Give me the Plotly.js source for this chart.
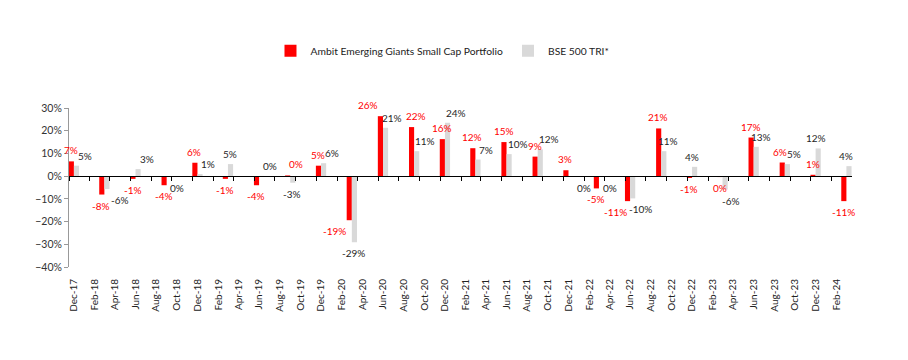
<!DOCTYPE html>
<html>
<head>
<meta charset="utf-8">
<script src="https://cdn.plot.ly/plotly-3.0.1.min.js"></script>
<style>html,body{margin:0;padding:0;background:#fff;}#chart{width:908px;height:360px;}</style>
</head>
<body>
<div id="chart"></div>
<script>
// Quarter-end months of the data points
var quarters = ['2017-12','2018-03','2018-06','2018-09','2018-12','2019-03','2019-06','2019-09',
  '2019-12','2020-03','2020-06','2020-09','2020-12','2021-03','2021-06','2021-09','2021-12',
  '2022-03','2022-06','2022-09','2022-12','2023-03','2023-06','2023-09','2023-12','2024-03'];

// Quarterly returns (%)
var ambit = [6.5,-8.1,-1.2,-4.0,5.9,-1.2,-4.0,0.3,4.6,-19.4,26.4,21.6,16.3,12.3,15.0,8.6,2.6,
  -5.4,-11.0,21.0,-0.8,-0.4,17.0,6.0,0.6,-11.0];
var bse = [4.6,-5.7,3.1,-0.2,0.9,5.3,0.1,-2.9,5.7,-29.1,21.3,11.0,23.5,7.3,9.7,11.8,-0.2,
  -0.2,-9.8,11.0,4.1,-5.9,12.9,5.3,12.2,4.4];

// Axis tick labels (every two months)
var tickLabels = ['Dec-17','Feb-18','Apr-18','Jun-18','Aug-18','Oct-18','Dec-18','Feb-19','Apr-19',
  'Jun-19','Aug-19','Oct-19','Dec-19','Feb-20','Apr-20','Jun-20','Aug-20','Oct-20','Dec-20',
  'Feb-21','Apr-21','Jun-21','Aug-21','Oct-21','Dec-21','Feb-22','Apr-22','Jun-22','Aug-22',
  'Oct-22','Dec-22','Feb-23','Apr-23','Jun-23','Aug-23','Oct-23','Dec-23','Feb-24'];

var seriesNames = ['Ambit Emerging Giants Small Cap Portfolio', 'BSE 500 TRI*'];

// Label placement tweaks (pixels, horizontal), kept apart from the data
var RED_SHIFT = -3, GREY_SHIFT = 11;
var redLabelShift = {'2019-09': 9, '2020-03': -14, '2020-06': -12, '2020-09': 5, '2022-06': -12, '2023-09': -2};
var greyLabelShift = {'2018-03': 16, '2018-09': 10, '2019-03': 2, '2019-09': 2, '2020-03': 2, '2020-06': 9, '2021-12': 16,
  '2022-06': 10, '2022-09': 7, '2022-12': 0, '2023-03': 8, '2023-06': 7, '2023-09': 9,
  '2023-12': 0, '2024-03': 0};

var MONTHS = {Jan:'01',Feb:'02',Mar:'03',Apr:'04',May:'05',Jun:'06',Jul:'07',Aug:'08',Sep:'09',Oct:'10',Nov:'11',Dec:'12'};
function labelToMonth(l){ var p = l.split('-'); return '20' + p[1] + '-' + MONTHS[p[0]]; }
function mid(m){ return m + '-15 12:00'; }
function start(m){ return m + '-01'; }

var DAY = 86400000;
var HALF = 15.2 * DAY;
var xMid = quarters.map(mid);

var RED = '#FF0000', GREY = '#D9D9D9';

var traces = [
  {type:'bar', name: seriesNames[0], x: xMid, y: ambit, xaxis:'x', yaxis:'y',
   width: HALF, offset: -HALF, marker:{color: RED}, hoverinfo:'skip'},
  {type:'bar', name: seriesNames[1], x: xMid, y: bse, xaxis:'x2', yaxis:'y',
   width: HALF, offset: 0, marker:{color: GREY}, hoverinfo:'skip'}
];

function fmt(v){ var r = Math.round(v); if (r === 0) r = 0; return String(r) + '%'; }

var annotations = [];
ambit.forEach(function(v, i){
  var s = redLabelShift[quarters[i]];
  annotations.push({x: xMid[i], y: v, xref:'x', yref:'y', text: fmt(v), showarrow:false,
    xshift: (s === undefined ? 0 : s) + RED_SHIFT, yshift: v >= 0 ? 3 : -3, yanchor: v >= 0 ? 'bottom' : 'top',
    font:{color: RED, size: 10}});
});
bse.forEach(function(v, i){
  var s = greyLabelShift[quarters[i]];
  annotations.push({x: xMid[i], y: v, xref:'x', yref:'y', text: fmt(v), showarrow:false,
    xshift: s === undefined ? GREY_SHIFT : s, yshift: v >= 0 ? 2 : -3, yanchor: v >= 0 ? 'bottom' : 'top',
    font:{color: '#262626', size: 10}});
});

var xRange = ['2017-12-01', '2024-04-01'];

var layout = {
  width: 908, height: 360,
  margin: {l: 69, r: 56, t: 108, b: 93},
  paper_bgcolor: '#fff', plot_bgcolor: '#fff',
  font: {family: 'Lato, "Open Sans", sans-serif', size: 10, color: '#333'},
  barmode: 'overlay',
  showlegend: true,
  legend: {orientation: 'h', x: 0.477, xanchor: 'center', y: 1.36, yanchor: 'middle',
    font: {size: 10.3, color: '#222'}, itemwidth: 30},
  xaxis: {type: 'date', range: xRange, tickvals: tickLabels.map(function(l){ return mid(labelToMonth(l)); }),
    ticktext: tickLabels, tickangle: -90, showline: false, showgrid: false, zeroline: false,
    ticks: 'outside', ticklen: 7, tickcolor: 'rgba(0,0,0,0)', tickfont: {size: 10, color: '#222'},
    fixedrange: true},
  xaxis2: {type: 'date', range: xRange, overlaying: 'x', anchor: 'free', position: 40/70,
    tickvals: tickLabels.map(function(l){ return start(labelToMonth(l)); }),
    showticklabels: false, showline: true, linecolor: '#000', linewidth: 1,
    ticks: 'outside', ticklen: 4, tickcolor: '#000', showgrid: false, zeroline: false, fixedrange: true},
  yaxis: {range: [-40, 30], dtick: 10, ticksuffix: '%', showline: true, linecolor: '#999', linewidth: 1,
    ticks: 'outside', ticklen: 4, tickcolor: '#999', showgrid: false, zeroline: false,
    tickfont: {size: 10.5, color: '#333'}, fixedrange: true},
  annotations: annotations
};

Plotly.newPlot('chart', traces, layout, {displayModeBar: false, staticPlot: true});
</script>
</body>
</html>
